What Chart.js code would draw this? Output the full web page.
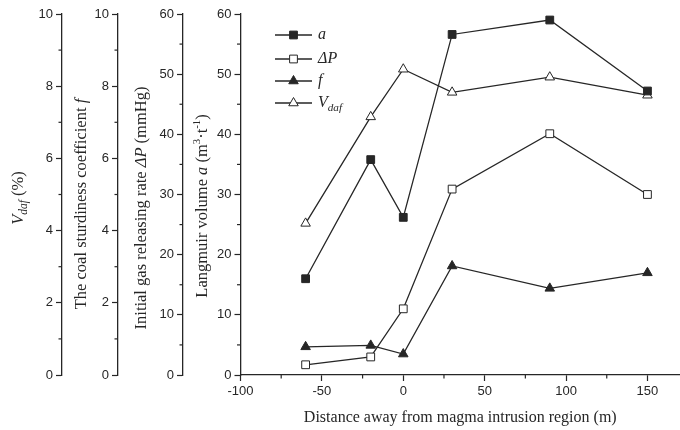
<!DOCTYPE html>
<html>
<head>
<meta charset="utf-8">
<script src="https://cdn.jsdelivr.net/npm/chart.js@4.4.1/dist/chart.umd.min.js"></script>
<style>
  html, body { margin: 0; padding: 0; background: #fff; }
  #wrap { width: 680px; height: 430px; }
</style>
</head>
<body>
<div id="wrap"><canvas id="chart"></canvas></div>
<script>
// distance from the magma intrusion region (m)
const distances = [-60, -20, 0, 30, 90, 150];
// Langmuir volume a (m3/t)
const langmuirA = [16.0, 35.8, 26.2, 56.6, 59.0, 47.2];
// initial gas releasing rate dP (mmHg)
const releaseDP = [1.7, 3.0, 11.0, 30.9, 40.1, 30.0];
// coal sturdiness coefficient f
const sturdinessF = [0.78, 0.82, 0.58, 3.02, 2.40, 2.83];
// volatile matter Vdaf (%)
const volatileVdaf = [4.20, 7.15, 8.47, 7.83, 8.25, 7.75];

const INK = '#262626';
const SANS = "'Liberation Sans', Arial, sans-serif";
const SERIF = "'Liberation Serif', 'Times New Roman', serif";
const tickFont = { family: SANS, size: 13 };
const TITLE_SIZE = 16.5;

// minor tick steps per scale (major step is the tick stepSize)
const minorSteps = { yV: 1, yF: 1, yP: 5, yA: 5, x: 25 };

// rotated axis titles: [text, style] with style '' normal, 'i' italic, 'sub' / 'sup'
const axisTitles = {
    yV: { off: 19, mid: 198, parts: [['V', 'i'], ['daf', 'sub'], [' (%)', '']] },
    yF: { off: 20, mid: 204, parts: [['The coal sturdiness coefficient ', ''], ['f', 'i']] },
    yP: { off: 24, mid: 208, parts: [['Initial gas releasing rate ', ''], ['\u0394P', 'i'], [' (mmHg)', '']] },
    yA: { off: 20, mid: 206, parts: [['Langmuir volume ', ''], ['a', 'i'], [' (m', ''], ['3', 'sup'], ['\u00B7t', ''], ['-1', 'sup'], [')', '']] }
};

function toPoints(ys) {
    return distances.map((x, i) => ({ x, y: ys[i] }));
}

function partFont(style, size) {
    if (style === 'i') return `italic ${size}px ${SERIF}`;
    if (style === 'sub') return `italic ${size * 0.7}px ${SERIF}`;
    if (style === 'sup') return `${size * 0.65}px ${SERIF}`;
    return `${size}px ${SERIF}`;
}

function partShift(style, size) {
    if (style === 'sub') return size * 0.3;
    if (style === 'sup') return -size * 0.35;
    return 0;
}

// draws mixed-style text starting at (x, y), left aligned, baseline middle
function drawRich(ctx, parts, x, y, size) {
    let cx = x;
    parts.forEach(([text, style]) => {
        ctx.font = partFont(style, size);
        ctx.fillText(text, cx, y + partShift(style, size));
        cx += ctx.measureText(text).width;
    });
}

function richWidth(ctx, parts, size) {
    let w = 0;
    parts.forEach(([text, style]) => {
        ctx.font = partFont(style, size);
        w += ctx.measureText(text).width;
    });
    return w;
}

function drawMarker(ctx, style, filled, x, y, r) {
    ctx.beginPath();
    if (style === 'rect') {
        const s = r * Math.SQRT1_2;
        ctx.rect(x - s, y - s, 2 * s, 2 * s);
    } else {
        ctx.moveTo(x, y - r);
        ctx.lineTo(x + r * Math.sin(2 * Math.PI / 3), y - r * Math.cos(2 * Math.PI / 3));
        ctx.lineTo(x + r * Math.sin(4 * Math.PI / 3), y - r * Math.cos(4 * Math.PI / 3));
        ctx.closePath();
    }
    ctx.fillStyle = filled ? INK : '#fff';
    ctx.fill();
    ctx.strokeStyle = INK;
    ctx.lineWidth = 1;
    ctx.stroke();
}

const minorTickPlugin = {
    id: 'minorTicks',
    afterDraw(chart) {
        const ctx = chart.ctx;
        ctx.save();
        ctx.strokeStyle = INK;
        ctx.lineWidth = 1.2;
        Object.entries(minorSteps).forEach(([id, step]) => {
            const s = chart.scales[id];
            if (!s) return;
            const major = s.options.ticks.stepSize;
            for (let v = s.min; v <= s.max + 1e-9; v += step) {
                if (Math.abs(v / major - Math.round(v / major)) < 1e-6) continue;
                const p = s.getPixelForValue(v);
                ctx.beginPath();
                if (s.isHorizontal()) {
                    ctx.moveTo(p, s.top);
                    ctx.lineTo(p, s.top + 3.5);
                } else {
                    ctx.moveTo(s.right - 3.5, p);
                    ctx.lineTo(s.right, p);
                }
                ctx.stroke();
            }
        });
        ctx.restore();
    }
};

const axisTitlePlugin = {
    id: 'axisTitles',
    afterDraw(chart) {
        const ctx = chart.ctx;
        ctx.save();
        ctx.fillStyle = INK;
        ctx.textBaseline = 'middle';
        ctx.textAlign = 'left';
        Object.entries(axisTitles).forEach(([id, t]) => {
            const s = chart.scales[id];
            const w = richWidth(ctx, t.parts, TITLE_SIZE);
            ctx.save();
            ctx.translate(s.left + t.off, t.mid);
            ctx.rotate(-Math.PI / 2);
            drawRich(ctx, t.parts, -w / 2, 0, TITLE_SIZE);
            ctx.restore();
        });
        ctx.restore();
    }
};

const legendRows = [
    { parts: [['a', 'i']], style: 'rect', filled: true },
    { parts: [['\u0394P', 'i']], style: 'rect', filled: false },
    { parts: [['f', 'i']], style: 'triangle', filled: true },
    { parts: [['V', 'i'], ['daf', 'sub']], style: 'triangle', filled: false }
];

const legendPlugin = {
    id: 'innerLegend',
    afterDatasetsDraw(chart) {
        const ctx = chart.ctx;
        const area = chart.chartArea;
        const x0 = area.left + 34.5;
        const x1 = area.left + 71.5;
        const rows = [21, 45, 67, 89];
        ctx.save();
        legendRows.forEach((row, i) => {
            const y = area.top + rows[i];
            ctx.strokeStyle = INK;
            ctx.lineWidth = 1.3;
            ctx.beginPath();
            ctx.moveTo(x0, y);
            ctx.lineTo(x1, y);
            ctx.stroke();
            drawMarker(ctx, row.style, row.filled, (x0 + x1) / 2, y, 5.5);
            ctx.fillStyle = INK;
            ctx.textBaseline = 'middle';
            ctx.textAlign = 'left';
            drawRich(ctx, row.parts, x1 + 6, y, 16);
        });
        ctx.restore();
    }
};

function leftAxis(min, max, step, weight, width) {
    return {
        type: 'linear',
        position: 'left',
        min: min,
        max: max,
        weight: weight,
        ticks: { stepSize: step, color: INK, font: tickFont, padding: 3 },
        grid: { display: true, drawOnChartArea: false, drawTicks: true, tickLength: 6, tickColor: INK, tickWidth: 1.2 },
        border: { display: true, color: INK, width: 1.3 },
        title: { display: false },
        afterFit: s => { s.width = width; }
    };
}

function lineSet(label, data, axis, style, filled) {
    return {
        label: label,
        data: toPoints(data),
        yAxisID: axis,
        borderColor: INK,
        borderWidth: 1.3,
        pointStyle: style,
        pointRadius: 5.5,
        pointHoverRadius: 5.5,
        pointBorderWidth: 1,
        pointBorderColor: INK,
        pointBackgroundColor: filled ? INK : '#fff',
        tension: 0,
        fill: false,
        clip: false
    };
}

new Chart(document.getElementById('chart'), {
    type: 'line',
    data: {
        datasets: [
            lineSet('a', langmuirA, 'yA', 'rect', true),
            lineSet('\u0394P', releaseDP, 'yP', 'rect', false),
            lineSet('f', sturdinessF, 'yF', 'triangle', true),
            lineSet('Vdaf', volatileVdaf, 'yV', 'triangle', false)
        ]
    },
    options: {
        responsive: true,
        maintainAspectRatio: false,
        animation: false,
        layout: { autoPadding: false, padding: { left: 0, top: 14, right: 0, bottom: 3 } },
        plugins: {
            legend: { display: false },
            tooltip: { enabled: false }
        },
        scales: {
            x: {
                type: 'linear',
                position: 'bottom',
                min: -100,
                max: 170,
                ticks: { stepSize: 50, includeBounds: false, color: INK, font: tickFont, padding: 3 },
                grid: { display: true, drawOnChartArea: false, drawTicks: true, tickLength: 6, tickColor: INK, tickWidth: 1.2 },
                border: { display: true, color: INK, width: 1.3 },
                title: {
                    display: true,
                    text: 'Distance away from magma intrusion region (m)',
                    color: INK,
                    font: { family: SERIF, size: 16 },
                    padding: { top: 0, bottom: 0 }
                },
                afterFit: s => { s.height = 52; s.paddingRight = 0; }
            },
            yA: leftAxis(0, 60, 10, 0, 57.5),
            yP: leftAxis(0, 60, 10, 1, 65),
            yF: leftAxis(0, 10, 2, 2, 56),
            yV: leftAxis(0, 10, 2, 3, 62)
        }
    },
    plugins: [minorTickPlugin, axisTitlePlugin, legendPlugin]
});
</script>
</body>
</html>
